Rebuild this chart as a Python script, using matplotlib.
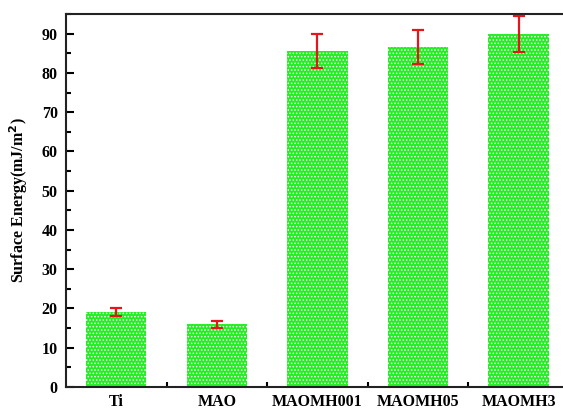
import matplotlib
matplotlib.use("Agg")
import matplotlib.pyplot as plt
from matplotlib.ticker import MultipleLocator, FixedLocator

# Datos
samples = ["Ti", "MAO", "MAOMH001", "MAOMH05", "MAOMH3"]
energy = [19.1, 16.0, 85.6, 86.6, 89.9]
energy_err = [1.0, 0.9, 4.4, 4.4, 4.7]

plt.rcParams["font.family"] = ["Liberation Serif", "DejaVu Serif"]
plt.rcParams["font.weight"] = "bold"
plt.rcParams["mathtext.default"] = "bf"
plt.rcParams["hatch.linewidth"] = 0.7

fig = plt.figure(figsize=(5.63, 4.08), dpi=100)
# el eje derecho queda fuera del recorte original
ax = fig.add_axes([0.1172, 0.0515, 0.8934, 0.9142])

pos = list(range(1, len(samples) + 1))
# hatch blanco sobre verde: el color del hatch sigue al edgecolor
ax.bar(pos, energy, width=0.6, color="#22ee22", edgecolor="white",
       linewidth=0, hatch=".....", zorder=2)
ax.errorbar(pos, energy, yerr=energy_err, fmt="none", ecolor="#e8141c",
            elinewidth=1.6, capsize=4, capthick=1.6, zorder=3)

ax.set_xlim(0.5, len(samples) + 0.5)
ax.set_ylim(0, 95)
ax.set_xticks(pos)
ax.set_xticklabels(samples)
ax.xaxis.set_minor_locator(FixedLocator([p + 0.5 for p in pos[:-1]]))
ax.yaxis.set_major_locator(MultipleLocator(10))
ax.yaxis.set_minor_locator(MultipleLocator(5))

ax.tick_params(which="both", direction="in", width=1.5, labelsize=11.5,
               top=False, right=False)
ax.tick_params(which="major", length=6)
ax.tick_params(which="minor", length=3.5)
ax.tick_params(axis="x", pad=5)
ax.tick_params(axis="y", pad=6)
for lbl in ax.get_xticklabels() + ax.get_yticklabels():
    lbl.set_fontweight("bold")
for sp in ax.spines.values():
    sp.set_linewidth(1.5)
    sp.set_color("#222222")

ax.set_ylabel("Surface Energy(mJ/m$^2$)", fontsize=11.5, fontweight="bold",
              labelpad=8)

fig.savefig("out.png", dpi=100)
